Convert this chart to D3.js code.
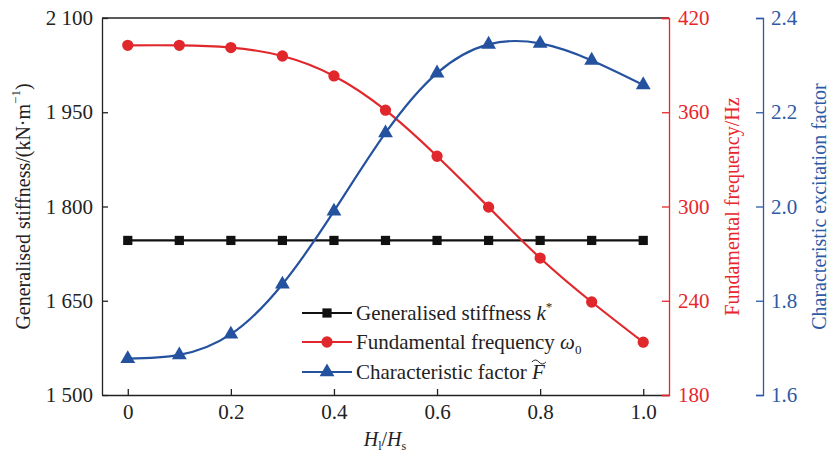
<!DOCTYPE html>
<html>
<head>
<meta charset="utf-8">
<script src="https://cdn.jsdelivr.net/npm/d3@7"></script>
<style>
  body { margin: 0; background: #fff; }
  svg { display: block; font-family: "Liberation Serif", "Times New Roman", serif; }
</style>
</head>
<body>
<div id="chart"></div>
<script>
// data
var ratio      = [0, 0.1, 0.2, 0.3, 0.4, 0.5, 0.6, 0.7, 0.8, 0.9, 1.0];
var stiffness  = [1746, 1746, 1746, 1746, 1746, 1746, 1746, 1746, 1746, 1746, 1746];
var frequency  = [402.6, 402.6, 401.2, 395.8, 383.1, 361.3, 332.0, 299.6, 267.2, 239.2, 213.6];
var excitation = [1.677, 1.685, 1.729, 1.835, 1.990, 2.156, 2.283, 2.344, 2.346, 2.310, 2.258];

var xTicks = [0, 0.2, 0.4, 0.6, 0.8, 1.0];
var kTicks = [1500, 1650, 1800, 1950, 2100];
var fTicks = [180, 240, 300, 360, 420];
var cTicks = [1.6, 1.8, 2.0, 2.2, 2.4];

var W = 830, H = 459;
var mLeft = 102, mRight = 669, mTop = 18, mBottom = 395;
var blueAxisX = 763;

var RED = "#e0282c", BLUE = "#24529f", RED_AX = "#e8262b", BLUE_AX = "#2d5aa5";

var svg = d3.select("#chart").append("svg").attr("width", W).attr("height", H);

var x = d3.scaleLinear().domain([-0.05, 1.05]).range([mLeft, mRight]);
var yK = d3.scaleLinear().domain([1500, 2100]).range([mBottom, mTop]);
var yF = d3.scaleLinear().domain([180, 420]).range([mBottom, mTop]);
var yC = d3.scaleLinear().domain([1.6, 2.4]).range([mBottom, mTop]);

var fmtK = function (d) { return d3.format(",")(d).replace(",", " "); };
var fmtX = function (d) { return d === 0 ? "0" : d3.format(".1f")(d); };

function styleAxis(g, color) {
    g.selectAll("path").attr("stroke", color).attr("stroke-width", 1.3);
    g.selectAll("line").attr("stroke", color).attr("stroke-width", 1.3);
    g.selectAll("text").attr("fill", color).attr("font-size", 21)
        .attr("font-family", "Liberation Serif, serif");
}

// top frame line
svg.append("line").attr("x1", mLeft).attr("x2", mRight).attr("y1", mTop).attr("y2", mTop)
    .attr("stroke", "#222").attr("stroke-width", 1.3);

var gx = svg.append("g").attr("transform", "translate(0," + mBottom + ")")
    .call(d3.axisBottom(x).tickValues(xTicks).tickFormat(fmtX).tickSizeInner(-6).tickSizeOuter(0).tickPadding(9));
styleAxis(gx, "#222");

var gk = svg.append("g").attr("transform", "translate(" + mLeft + ",0)")
    .call(d3.axisLeft(yK).tickValues(kTicks).tickFormat(fmtK).tickSizeInner(-6).tickSizeOuter(0).tickPadding(9));
styleAxis(gk, "#222");

var gf = svg.append("g").attr("transform", "translate(" + mRight + ",0)")
    .call(d3.axisRight(yF).tickValues(fTicks).tickSizeInner(-7).tickSizeOuter(-7).tickPadding(9));
styleAxis(gf, RED_AX);

var gc = svg.append("g").attr("transform", "translate(" + blueAxisX + ",0)")
    .call(d3.axisRight(yC).tickValues(cTicks).tickFormat(d3.format(".1f")).tickSizeInner(-7).tickSizeOuter(-7).tickPadding(8));
styleAxis(gc, BLUE_AX);

// axis titles
var midY = (mTop + mBottom) / 2;
var kt = svg.append("text").attr("transform", "translate(23," + midY + ") rotate(-90)")
    .attr("text-anchor", "middle").attr("dominant-baseline", "central").attr("font-size", 20).attr("fill", "#222");
kt.append("tspan").text("Generalised stiffness/(kN\u00b7m");
kt.append("tspan").attr("font-size", 13).attr("dy", -8).text("\u22121");
kt.append("tspan").attr("dy", 8).text(")");

svg.append("text").attr("transform", "translate(732," + midY + ") rotate(-90)")
    .attr("text-anchor", "middle").attr("dominant-baseline", "central").attr("font-size", 20).attr("fill", RED_AX)
    .text("Fundamental frequency/Hz");

svg.append("text").attr("transform", "translate(819," + midY + ") rotate(-90)")
    .attr("text-anchor", "middle").attr("dominant-baseline", "central").attr("font-size", 20).attr("fill", BLUE_AX)
    .text("Characteristic excitation factor");

var xt = svg.append("text").attr("x", 385).attr("y", 446).attr("text-anchor", "middle")
    .attr("font-size", 20).attr("fill", "#222");
xt.append("tspan").attr("font-style", "italic").text("H");
xt.append("tspan").attr("font-size", 12).attr("dy", 4).text("l");
xt.append("tspan").attr("dy", -4).text("/");
xt.append("tspan").attr("font-style", "italic").text("H");
xt.append("tspan").attr("font-size", 12).attr("dy", 4).text("s");

// series
var series = [
    { values: stiffness, y: yK, color: "#111", curve: d3.curveLinear, symbol: d3.symbolSquare, size: 85 },
    { values: frequency, y: yF, color: RED, curve: d3.curveNatural, symbol: d3.symbolCircle, size: 100 },
    { values: excitation, y: yC, color: BLUE, curve: d3.curveNatural, symbol: d3.symbolTriangle, size: 95 }
];

series.forEach(function (s) {
    var line = d3.line().x(function (d, i) { return x(ratio[i]); })
        .y(function (d) { return s.y(d); }).curve(s.curve);
    svg.append("path").datum(s.values).attr("d", line)
        .attr("fill", "none").attr("stroke", s.color).attr("stroke-width", 2.2);
    svg.append("g").selectAll("path").data(s.values).join("path")
        .attr("transform", function (d, i) { return "translate(" + x(ratio[i]) + "," + s.y(d) + ")"; })
        .attr("d", d3.symbol().type(s.symbol).size(s.size))
        .attr("fill", s.color);
});

// legend
var legendRows = [313, 342, 372];
var lg = svg.append("g");
series.forEach(function (s, i) {
    var yy = legendRows[i];
    lg.append("line").attr("x1", 302).attr("x2", 352).attr("y1", yy).attr("y2", yy)
        .attr("stroke", s.color).attr("stroke-width", 2.2);
    lg.append("path").attr("transform", "translate(327," + yy + ")")
        .attr("d", d3.symbol().type(s.symbol).size(s.size)).attr("fill", s.color);
});

var t1 = lg.append("text").attr("x", 356).attr("y", legendRows[0] + 7).attr("font-size", 21).attr("fill", "#222")
    .text("Generalised stiffness ");
t1.append("tspan").attr("font-style", "italic").text("k");
t1.append("tspan").attr("font-size", 13).attr("dy", -9).text("*");

var t2 = lg.append("text").attr("x", 356).attr("y", legendRows[1] + 7).attr("font-size", 21).attr("fill", "#222")
    .text("Fundamental frequency ");
t2.append("tspan").attr("font-style", "italic").text("\u03c9");
t2.append("tspan").attr("font-size", 13).attr("dy", 5).text("0");

var t3 = lg.append("text").attr("x", 356).attr("y", legendRows[2] + 7).attr("font-size", 21).attr("fill", "#222")
    .text("Characteristic factor ");
t3.append("tspan").attr("font-style", "italic").text("F");
var fEnd = 356 + t3.node().getComputedTextLength();
var fMid = fEnd - 6;
var ty = legendRows[2] - 11;
lg.append("path")
    .attr("d", "M" + (fMid - 7) + "," + (ty + 1) + " q3.5,-4 7,0 t7,0")
    .attr("fill", "none").attr("stroke", "#222").attr("stroke-width", 1);
</script>
</body>
</html>
